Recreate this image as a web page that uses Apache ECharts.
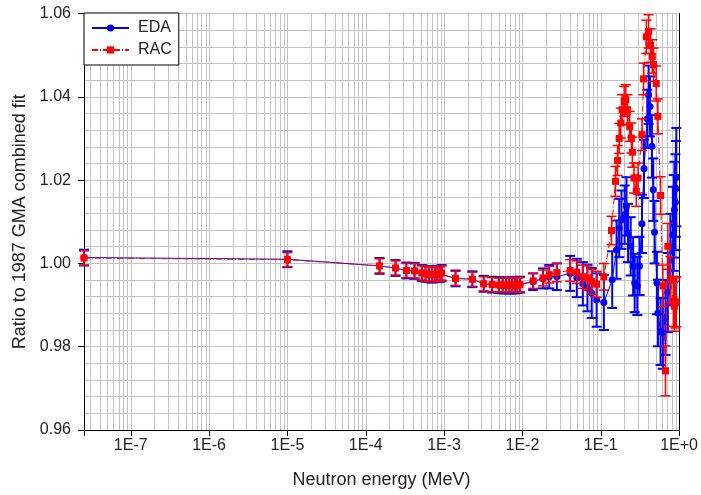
<!DOCTYPE html>
<html>
<head>
<meta charset="utf-8">
<script src="https://cdn.jsdelivr.net/npm/echarts@6/dist/echarts.min.js"></script>
<style>
  html, body { margin: 0; padding: 0; background: #ffffff; }
  #chart { width: 701px; height: 495px; }
</style>
</head>
<body>
<div id="chart"></div>
<script>
// Ratio of evaluated cross sections to the 1987 GMA combined fit

const xTickLabels = ['1E-7', '1E-6', '1E-5', '1E-4', '1E-3', '1E-2', '1E-1', '1E+0'];

// EDA evaluation (MeV, ratio, 1-sigma)
const edaEnergy = [
  2.53e-8, 1.0e-5,
  1.5e-4, 2.4e-4, 3.3e-4, 4.2e-4, 5.2e-4, 5.8e-4, 6.4e-4, 7.0e-4, 7.6e-4, 8.2e-4, 8.8e-4, 9.3e-4,
  1.4e-3, 2.3e-3, 3.2e-3, 4.1e-3, 5.0e-3, 5.6e-3, 6.2e-3, 6.8e-3, 7.4e-3, 8.0e-3, 8.6e-3, 9.3e-3,
  1.37e-2, 1.83e-2, 2.2e-2, 2.75e-2, 4.07e-2, 4.95e-2, 5.9e-2, 6.76e-2, 7.66e-2, 8.86e-2,
  0.1096, 0.140, 0.159, 0.172, 0.184, 0.202, 0.213, 0.223, 0.241, 0.259, 0.271, 0.293, 0.313,
  0.336, 0.356, 0.393, 0.408, 0.425, 0.450, 0.468, 0.486, 0.521, 0.537, 0.580, 0.621, 0.670,
  0.718, 0.774, 0.832, 0.855, 0.871, 0.897, 0.910, 0.922
];
const edaRatio = [
  1.0014, 1.0010,
  0.9994, 0.9989, 0.9983, 0.9982, 0.9977, 0.9975, 0.9974, 0.9973, 0.9974, 0.9975, 0.9975, 0.9977,
  0.9964, 0.9962, 0.9951, 0.9949, 0.9948, 0.9947, 0.9947, 0.9947, 0.9947, 0.9947, 0.9948, 0.9949,
  0.9956, 0.9964, 0.9968, 0.9968, 0.9976, 0.9965, 0.9951, 0.9941, 0.9929, 0.9912,
  0.9906, 0.9961, 1.0033, 1.0085, 1.0105, 1.0117, 1.0137, 1.0073, 1.0041, 0.9993, 0.9953, 0.9946, 0.9994,
  1.0095, 1.0227, 1.0347, 1.0405, 1.0377, 1.0281, 1.0177, 1.0075, 0.9953, 0.9881, 0.9836, 0.9832, 0.9870,
  0.9930, 1.0009, 1.0069, 1.0097, 1.0129, 1.0147, 1.0179, 1.0207
];
const edaError = [
  0.0019, 0.0019,
  0.0019, 0.0019, 0.0019, 0.0019, 0.0019, 0.0019, 0.0019, 0.0019, 0.0019, 0.0019, 0.0019, 0.0019,
  0.0019, 0.0019, 0.0019, 0.0019, 0.0019, 0.0019, 0.0019, 0.0019, 0.0019, 0.0019, 0.0019, 0.0019,
  0.0020, 0.0024, 0.0028, 0.0032, 0.0042, 0.0046, 0.0052, 0.0056, 0.0060, 0.0064,
  0.0066, 0.0068, 0.0070, 0.0070, 0.0070, 0.0070, 0.0070, 0.0070, 0.0070, 0.0070, 0.0070, 0.0070, 0.0070,
  0.0070, 0.0070, 0.0070, 0.0070, 0.0072, 0.0075, 0.0075, 0.0075, 0.0075, 0.0080, 0.0080, 0.0085, 0.0090,
  0.0095, 0.0110, 0.0115, 0.0115, 0.0115, 0.0115, 0.0115, 0.0118
];

// RAC evaluation (MeV, ratio, 1-sigma)
const racEnergy = [
  2.53e-8, 1.0e-5,
  1.5e-4, 2.4e-4, 3.3e-4, 4.2e-4, 5.2e-4, 5.8e-4, 6.4e-4, 7.0e-4, 7.6e-4, 8.2e-4, 8.8e-4, 9.3e-4,
  1.4e-3, 2.3e-3, 3.2e-3, 4.1e-3, 5.0e-3, 5.6e-3, 6.2e-3, 6.8e-3, 7.4e-3, 8.0e-3, 8.6e-3, 9.3e-3,
  1.37e-2, 1.83e-2, 2.2e-2, 2.75e-2, 4.07e-2, 4.95e-2, 5.9e-2, 6.76e-2, 7.66e-2, 8.86e-2,
  0.1096, 0.137, 0.154, 0.164, 0.172, 0.180, 0.187, 0.199, 0.209, 0.219, 0.234, 0.246, 0.253,
  0.266, 0.284, 0.299, 0.336, 0.352, 0.382, 0.408, 0.433, 0.455, 0.472, 0.510, 0.536, 0.580,
  0.621, 0.670, 0.718, 0.774, 0.850, 0.871, 0.897, 0.922
];
const racRatio = [
  1.0013, 1.0009,
  0.9994, 0.9989, 0.9983, 0.9982, 0.9977, 0.9975, 0.9974, 0.9973, 0.9974, 0.9975, 0.9975, 0.9977,
  0.9964, 0.9962, 0.9951, 0.9949, 0.9948, 0.9948, 0.9948, 0.9948, 0.9948, 0.9948, 0.9948, 0.9949,
  0.9958, 0.9965, 0.9973, 0.9978, 0.9983, 0.9979, 0.9968, 0.9965, 0.9956, 0.9950,
  0.9968, 1.0079, 1.0197, 1.0247, 1.0300, 1.0337, 1.0369, 1.0389, 1.0393, 1.0369, 1.0329, 1.0301, 1.0267,
  1.0205, 1.0173, 1.0205, 1.0309, 1.0443, 1.0544, 1.0557, 1.0523, 1.0497, 1.0477, 1.0432, 1.0353, 1.0163,
  0.9946, 0.9742, 1.0041, 0.9961, 0.9909, 0.9897, 0.9905, 0.9908
];
const racError = [
  0.0017, 0.0017,
  0.0017, 0.0017, 0.0017, 0.0017, 0.0017, 0.0017, 0.0017, 0.0017, 0.0017, 0.0017, 0.0017, 0.0017,
  0.0017, 0.0017, 0.0017, 0.0017, 0.0017, 0.0017, 0.0017, 0.0017, 0.0017, 0.0017, 0.0017, 0.0017,
  0.0018, 0.0019, 0.0020, 0.0022, 0.0026, 0.0027, 0.0028, 0.0029, 0.0030, 0.0031,
  0.0032, 0.0034, 0.0036, 0.0036, 0.0036, 0.0036, 0.0036, 0.0036, 0.0036, 0.0036, 0.0036, 0.0036, 0.0036,
  0.0036, 0.0036, 0.0036, 0.0038, 0.0038, 0.0040, 0.0040, 0.0040, 0.0040, 0.0040, 0.0042, 0.0042, 0.0045,
  0.0050, 0.0060, 0.0055, 0.0055, 0.0060, 0.0060, 0.0060, 0.0060
];

const xMin = 2.53e-8;
const xMax = 1;
const yMin = 0.96;
const yMax = 1.06;
const gridColor = '#c2c2c2';
const textColor = '#222222';
const blue = '#0000ff';
const red = '#ff0000';

// Intermediate log grid positions at 2..9 x 10^k
const minorX = [];
for (let k = -8; k < 0; k++) {
  for (let m = 2; m <= 9; m++) {
    const v = m * Math.pow(10, k);
    if (v > xMin && v < xMax) minorX.push([v]);
  }
}

function points(energy, ratio) {
  return energy.map((e, i) => [e, ratio[i]]);
}
function bars(energy, ratio, err) {
  return energy.map((e, i) => [e, ratio[i] - err[i], ratio[i] + err[i]]);
}
function errorBarRenderer(color, width) {
  return function (params, api) {
    const e = api.value(0);
    const lo = api.coord([e, api.value(1)]);
    const hi = api.coord([e, api.value(2)]);
    const half = 5;
    const style = { stroke: color, lineWidth: width };
    return {
      type: 'group',
      children: [
        { type: 'line', shape: { x1: hi[0], y1: hi[1], x2: lo[0], y2: lo[1] }, style: style },
        { type: 'line', shape: { x1: hi[0] - half, y1: hi[1], x2: hi[0] + half, y2: hi[1] }, style: style },
        { type: 'line', shape: { x1: lo[0] - half, y1: lo[1], x2: lo[0] + half, y2: lo[1] }, style: style }
      ]
    };
  };
}
// Full-height vertical line at a given energy
function gridLineRenderer(params, api) {
  const e = api.value(0);
  const top = api.coord([e, yMax]);
  const bottom = api.coord([e, yMin]);
  const x = Math.round(top[0]) + 0.5;
  return {
    type: 'line',
    shape: { x1: x, y1: top[1], x2: x, y2: bottom[1] },
    style: { stroke: gridColor, lineWidth: 1 }
  };
}

const chart = echarts.init(document.getElementById('chart'), null, { renderer: 'canvas' });

chart.setOption({
  animation: false,
  backgroundColor: '#ffffff',
  textStyle: { fontFamily: 'Liberation Sans, Arial, sans-serif' },
  grid: { left: 84, right: 18, top: 13.5, bottom: 65 },
  legend: {
    data: ['EDA', 'RAC'],
    orient: 'vertical',
    left: 84,
    top: 13,
    padding: [7, 7, 7, 7],
    itemGap: 6,
    itemWidth: 37,
    itemHeight: 9,
    backgroundColor: '#ffffff',
    borderColor: '#000000',
    borderWidth: 1,
    textStyle: { fontSize: 16, color: textColor, padding: [0, 0, 0, 4] },
    z: 50
  },
  xAxis: {
    type: 'log',
    logBase: 10,
    min: xMin,
    max: xMax,
    name: 'Neutron energy (MeV)',
    nameLocation: 'middle',
    nameGap: 41,
    nameTextStyle: { fontSize: 18, color: textColor },
    axisLine: { show: true, onZero: false, lineStyle: { color: '#000000', width: 1 } },
    axisTick: { show: true, inside: false, length: 6, lineStyle: { color: '#000000' } },
    axisLabel: {
      fontSize: 16,
      color: textColor,
      margin: 8,
      formatter: function (v) {
        const l = Math.log10(v);
        const e = Math.round(l);
        if (Math.abs(l - e) > 1e-6) return '';
        return xTickLabels[e + 7] || '';
      }
    },
    splitLine: { show: true, lineStyle: { color: gridColor, width: 1 } }
  },
  yAxis: [
    {
      type: 'value',
      min: yMin,
      max: yMax,
      interval: 0.02,
      name: 'Ratio to 1987 GMA combined fit',
      nameLocation: 'middle',
      nameGap: 46,
      nameTextStyle: { fontSize: 18, color: textColor },
      axisLine: { show: true, lineStyle: { color: '#000000', width: 1 } },
      axisTick: { show: true, inside: false, length: 6, lineStyle: { color: '#000000' } },
      axisLabel: {
        fontSize: 16,
        color: textColor,
        margin: 13,
        formatter: function (v) { return v.toFixed(2); }
      },
      splitLine: { show: true, lineStyle: { color: gridColor, width: 1 } },
      minorTick: { show: true, splitNumber: 5, length: 0, lineStyle: { color: 'rgba(0,0,0,0)', width: 0 } },
      minorSplitLine: { show: true, lineStyle: { color: gridColor, width: 1 } }
    },
    {
      type: 'value',
      position: 'right',
      min: yMin,
      max: yMax,
      interval: 0.02,
      axisLine: { show: true, lineStyle: { color: '#000000', width: 1 } },
      axisTick: { show: false },
      axisLabel: { show: false },
      splitLine: { show: false }
    }
  ],
  series: [
    {
      name: 'minor grid',
      type: 'custom',
      z: 1,
      silent: true,
      renderItem: gridLineRenderer,
      encode: { x: 0 },
      data: minorX
    },
    {
      name: 'EDA error',
      type: 'custom',
      z: 10,
      silent: true,
      renderItem: errorBarRenderer(blue, 2),
      encode: { x: 0, y: [1, 2] },
      data: bars(edaEnergy, edaRatio, edaError)
    },
    {
      name: 'EDA',
      type: 'line',
      z: 11,
      data: points(edaEnergy, edaRatio),
      symbol: 'circle',
      symbolSize: 7,
      showAllSymbol: true,
      itemStyle: { color: blue },
      lineStyle: { color: blue, width: 1, type: 'solid' }
    },
    {
      name: 'RAC error',
      type: 'custom',
      z: 12,
      silent: true,
      renderItem: errorBarRenderer(red, 1.5),
      encode: { x: 0, y: [1, 2] },
      data: bars(racEnergy, racRatio, racError)
    },
    {
      name: 'RAC',
      type: 'line',
      z: 13,
      data: points(racEnergy, racRatio),
      symbol: 'rect',
      symbolSize: 7,
      showAllSymbol: true,
      itemStyle: { color: red },
      lineStyle: { color: red, width: 1, type: [6, 2, 1, 2] }
    }
  ]
});
</script>
</body>
</html>
